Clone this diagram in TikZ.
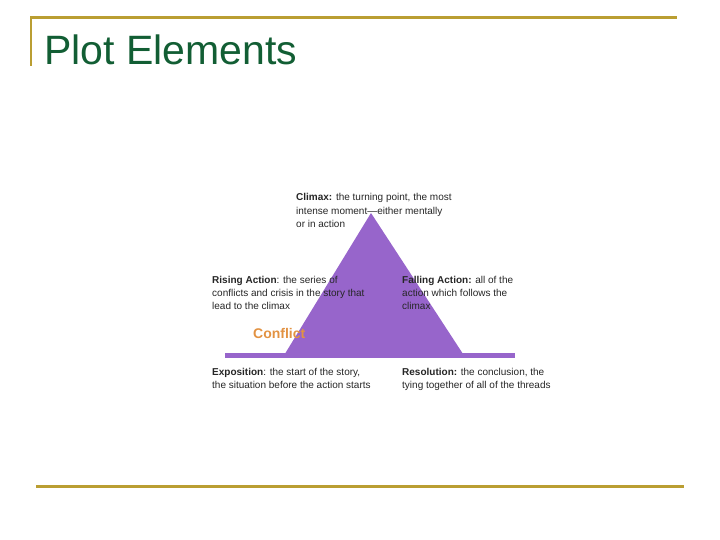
\documentclass[tikz,border=0pt]{standalone}
\usepackage{fontspec}
\setmainfont{Liberation Sans}
\definecolor{goldline}{RGB}{186,158,50}
\definecolor{titlegreen}{RGB}{18,94,52}
\definecolor{plotpurple}{RGB}{151,101,203}
\definecolor{conflictorange}{RGB}{226,146,66}
\tikzset{
  plotnote/.style={anchor=base west, inner sep=0, align=left, text=black!85,
    font=\fontsize{10}{13}\selectfont}
}
\begin{document}
\begin{tikzpicture}[x=1pt, y=-1pt]
    \useasboundingbox (0,0) rectangle (720,540);

    % Frame lines
    \draw[goldline, line width=3pt] (30,18) -- (677,18);
    \draw[goldline, line width=2pt] (31,17) -- (31,66);
    \draw[goldline, line width=3pt] (36,486) -- (684,486);

    % Title
    \node[anchor=base west, inner sep=0, text=titlegreen,
          font=\fontsize{41}{46}\selectfont] (title) at (44,65) {Plot Elements};

    % Base line and triangle
    \fill[plotpurple] (225,353) rectangle (515,358);
    \fill[plotpurple] (283,357) -- (371,213) -- (465,357) -- cycle;

    % Stages (anchored on the baseline of the last line)
    \node[plotnote] (climax) at (296,227)
        {\textbf{Climax:} the turning point, the most\\intense moment—either mentally\\or in action};
    \node[plotnote] (rising) at (212,309)
        {\textbf{Rising Action}: the series of\\conflicts and crisis in the story that\\lead to the climax};
    \node[plotnote] (falling) at (402,309)
        {\textbf{Falling Action:} all of the\\action which follows the\\climax};
    \node[plotnote] (exposition) at (212,388)
        {\textbf{Exposition}:  the start of the story,\\the situation before the action starts};
    \node[plotnote] (resolution) at (402,388)
        {\textbf{Resolution:} the conclusion, the\\tying together of all of the threads};

    % Conflict
    \node[anchor=base west, inner sep=0, text=conflictorange,
          font=\bfseries\fontsize{14}{16}\selectfont] (conflict) at (253,338) {Conflict};

\end{tikzpicture}
\end{document}
